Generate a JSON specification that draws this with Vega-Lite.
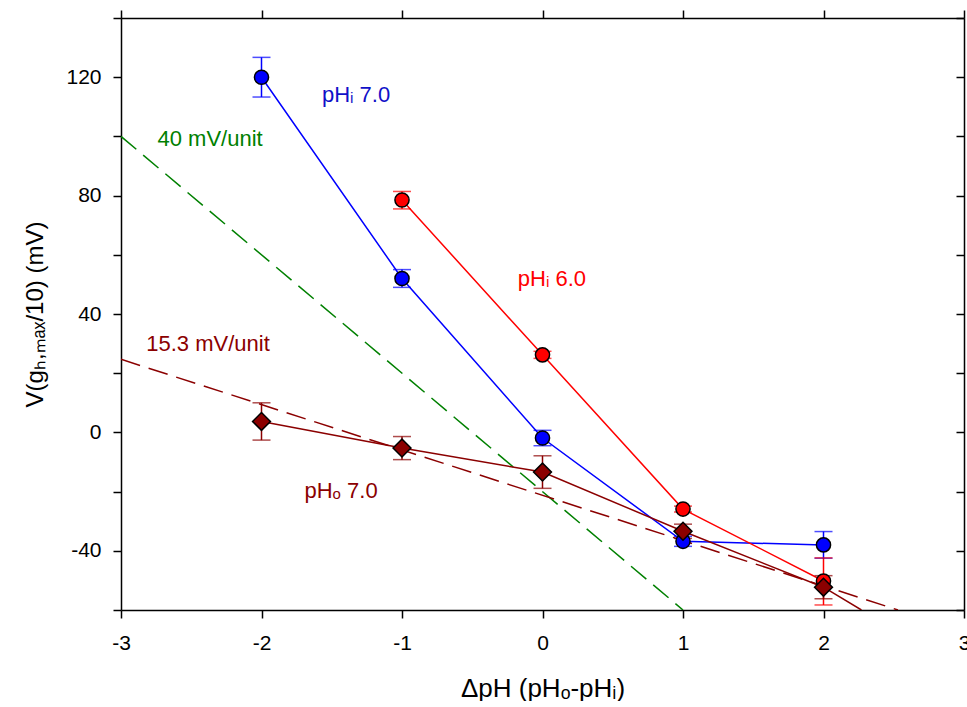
{
  "$schema": "https://vega.github.io/schema/vega-lite/v6.json",
  "width": 843,
  "height": 592,
  "padding": {"left": 23, "top": 7, "right": 0, "bottom": 0},
  "background": "white",
  "config": {
    "view": {"stroke": null},
    "font": "Liberation Sans",
    "axis": {
      "grid": false,
      "domainColor": "black",
      "domainWidth": 1.5,
      "tickColor": "black",
      "tickWidth": 1.5,
      "tickSize": 8,
      "labelColor": "black",
      "labelFont": "Liberation Sans",
      "labelFontSize": 21,
      "titleFont": "Liberation Sans",
      "titleFontWeight": "normal",
      "titleColor": "black",
      "titleFontSize": 24
    }
  },
  "datasets": {
    "pts": [
      {"series": "pHi7", "x": -2, "y": 120, "lo": 113.3, "hi": 126.7},
      {"series": "pHi7", "x": -1, "y": 52, "lo": 49, "hi": 55},
      {"series": "pHi7", "x": 0, "y": -1.9, "lo": -4.5, "hi": 0.7},
      {"series": "pHi7", "x": 1, "y": -36.8, "lo": -38.5, "hi": -35.1},
      {"series": "pHi7", "x": 2, "y": -38, "lo": -42.5, "hi": -33.5},
      {"series": "pHi6", "x": -1, "y": 78.5, "lo": 75.5, "hi": 81.4},
      {"series": "pHi6", "x": 0, "y": 26.2, "lo": 25, "hi": 27.4},
      {"series": "pHi6", "x": 1, "y": -25.9, "lo": -26.9, "hi": -24.9},
      {"series": "pHi6", "x": 2, "y": -50.2, "lo": -58.3, "hi": -42.4},
      {"series": "pHo7", "x": -2, "y": 3.7, "lo": -2.6, "hi": 10},
      {"series": "pHo7", "x": -1, "y": -5.3, "lo": -9.2, "hi": -1.4},
      {"series": "pHo7", "x": 0, "y": -13.4, "lo": -18.9, "hi": -7.9},
      {"series": "pHo7", "x": 1, "y": -33.4, "lo": -35.8, "hi": -31},
      {"series": "pHo7", "x": 2, "y": -52.3, "lo": -56.2, "hi": -48.4}
    ],
    "conn": [
      {"series": "pHi7", "x": -2, "y": 120},
      {"series": "pHi7", "x": -1, "y": 52},
      {"series": "pHi7", "x": 0, "y": -1.9},
      {"series": "pHi7", "x": 1, "y": -36.8},
      {"series": "pHi7", "x": 2, "y": -38},
      {"series": "pHi6", "x": -1, "y": 78.5},
      {"series": "pHi6", "x": 0, "y": 26.2},
      {"series": "pHi6", "x": 1, "y": -25.9},
      {"series": "pHi6", "x": 2, "y": -50.2},
      {"series": "pHo7", "x": -2, "y": 3.7},
      {"series": "pHo7", "x": -1, "y": -5.3},
      {"series": "pHo7", "x": 0, "y": -13.4},
      {"series": "pHo7", "x": 1, "y": -33.4},
      {"series": "pHo7", "x": 2, "y": -52.3},
      {"series": "pHo7", "x": 2.27, "y": -60}
    ],
    "fits": [
      {"fit": "g40", "x": -3, "y": 100},
      {"fit": "g40", "x": 1, "y": -60},
      {"fit": "pHo7", "x": -3, "y": 24.7},
      {"fit": "pHo7", "x": 2.53, "y": -60}
    ],
    "labels": [
      {"txt": "pHᵢ 7.0", "x": -1.57, "y": 111.7, "c": "pHi7t"},
      {"txt": "40 mV/unit", "x": -2.74, "y": 96.8, "c": "g40"},
      {"txt": "pHᵢ 6.0", "x": -0.176, "y": 49.3, "c": "pHi6"},
      {"txt": "15.3 mV/unit", "x": -2.82, "y": 27.6, "c": "pHo7"},
      {"txt": "pHₒ 7.0", "x": -1.694, "y": -22.2, "c": "pHo7"}
    ]
  },
  "resolve": {"axis": {"x": "independent", "y": "independent"}},
  "layer": [
    {
      "data": {"name": "fits"},
      "mark": {"type": "line", "strokeWidth": 1.5, "strokeDash": [20, 9], "clip": true},
      "encoding": {
        "x": {"field": "x", "type": "quantitative", "scale": {"domain": [-3, 3], "nice": false, "zero": false},
              "axis": {"orient": "bottom", "values": [-3, -2, -1, 0, 1, 2, 3], "labelExpr": "'' + datum.value", "labelPadding": 14, "title": "ΔpH (pHₒ-pHᵢ)", "titleFontSize": 26, "titlePadding": 22, "labelFlush": false, "labelOverlap": false}},
        "y": {"field": "y", "type": "quantitative", "scale": {"domain": [-60, 140], "nice": false, "zero": false},
              "axis": {"orient": "left", "values": [-60, -40, -20, 0, 20, 40, 60, 80, 100, 120, 140], "labelExpr": "datum.value % 40 == 0 ? '' + datum.value : ''", "labelPadding": 12, "title": "V(gₕ,ₘₐₓ/10) (mV)", "titlePadding": 18, "labelFlush": false, "labelOverlap": false}},
        "detail": {"field": "fit"},
        "color": {"field": "fit", "type": "nominal", "scale": {"domain": ["pHi7", "pHi6", "pHo7", "g40", "pHi7t"], "range": ["#0000ff", "#ff0000", "#8b0000", "#008000", "#1010c8"]}, "legend": null}
      }
    },
    {
      "data": {"name": "conn"},
      "mark": {"type": "line", "strokeWidth": 1.5, "clip": true},
      "encoding": {
        "x": {"field": "x", "type": "quantitative",
              "axis": {"orient": "top", "values": [-3, -2, -1, 0, 1, 2, 3], "labels": false, "title": null}},
        "y": {"field": "y", "type": "quantitative",
              "axis": {"orient": "right", "values": [-60, -40, -20, 0, 20, 40, 60, 80, 100, 120, 140], "labels": false, "tickSize": -8, "title": null}},
        "detail": {"field": "series"},
        "color": {"field": "series", "type": "nominal", "legend": null}
      }
    },
    {
      "data": {"name": "pts"},
      "mark": {"type": "rule", "strokeWidth": 1.5},
      "encoding": {
        "x": {"field": "x", "type": "quantitative", "axis": null},
        "y": {"field": "lo", "type": "quantitative", "axis": null},
        "y2": {"field": "hi"},
        "color": {"field": "series", "type": "nominal", "legend": null}
      }
    },
    {
      "data": {"name": "pts"},
      "mark": {"type": "tick", "orient": "horizontal", "size": 18, "thickness": 1.5},
      "encoding": {
        "x": {"field": "x", "type": "quantitative", "axis": null},
        "y": {"field": "lo", "type": "quantitative", "axis": null},
        "color": {"field": "series", "type": "nominal", "legend": null}
      }
    },
    {
      "data": {"name": "pts"},
      "mark": {"type": "tick", "orient": "horizontal", "size": 18, "thickness": 1.5},
      "encoding": {
        "x": {"field": "x", "type": "quantitative", "axis": null},
        "y": {"field": "hi", "type": "quantitative", "axis": null},
        "color": {"field": "series", "type": "nominal", "legend": null}
      }
    },
    {
      "data": {"name": "pts"},
      "transform": [{"filter": "datum.series != 'pHo7'"}],
      "mark": {"type": "point", "shape": "circle", "filled": true, "size": 200, "stroke": "black", "strokeWidth": 1.5, "opacity": 1},
      "encoding": {
        "x": {"field": "x", "type": "quantitative", "axis": null},
        "y": {"field": "y", "type": "quantitative", "axis": null},
        "fill": {"field": "series", "type": "nominal", "scale": {"domain": ["pHi7", "pHi6", "pHo7"], "range": ["#0000ff", "#ff0000", "#8b0000"]}, "legend": null}
      }
    },
    {
      "data": {"name": "pts"},
      "transform": [{"filter": "datum.series == 'pHo7'"}],
      "mark": {"type": "point", "shape": "diamond", "filled": true, "size": 320, "stroke": "black", "strokeWidth": 1.5, "opacity": 1},
      "encoding": {
        "x": {"field": "x", "type": "quantitative", "axis": null},
        "y": {"field": "y", "type": "quantitative", "axis": null},
        "fill": {"field": "series", "type": "nominal", "legend": null}
      }
    },
    {
      "data": {"name": "labels"},
      "mark": {"type": "text", "align": "left", "baseline": "alphabetic", "fontSize": 22, "font": "Liberation Sans"},
      "encoding": {
        "x": {"field": "x", "type": "quantitative", "axis": null},
        "y": {"field": "y", "type": "quantitative", "axis": null},
        "text": {"field": "txt"},
        "color": {"field": "c", "type": "nominal", "legend": null}
      }
    }
  ]
}
